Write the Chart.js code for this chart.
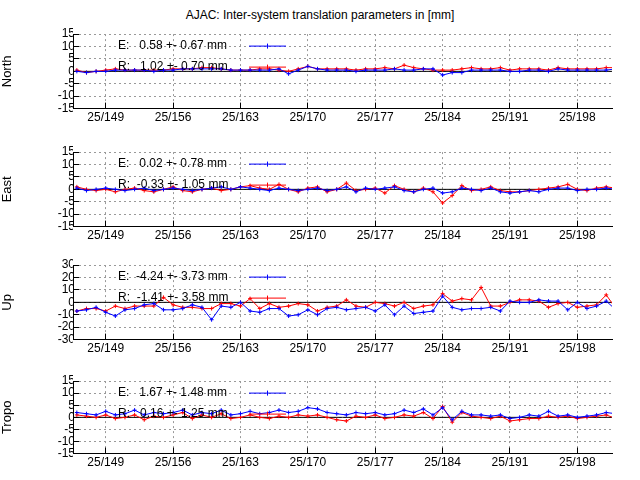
<!DOCTYPE html>
<html><head><meta charset="utf-8">
<script src="https://cdn.jsdelivr.net/npm/chart.js@4/dist/chart.umd.min.js"></script>
<style>body{margin:0;width:640px;height:480px;background:#fff;position:relative;font-family:"Liberation Sans",Arial,sans-serif}
#t{position:absolute;top:8px;left:0;width:640px;text-align:center;font-size:12px}
canvas{position:absolute}</style></head><body>
<div id="t">AJAC: Inter-system translation parameters in [mm]</div>
<canvas id="c0" style="left:0;top:25px" width="640" height="110"></canvas>
<canvas id="c1" style="left:0;top:143px" width="640" height="110"></canvas>
<canvas id="c2" style="left:0;top:256px" width="640" height="110"></canvas>
<canvas id="c3" style="left:0;top:372px" width="640" height="108"></canvas>
<script>
const days=[146,147,148,149,150,151,152,153,154,155,156,157,158,159,160,161,162,163,164,165,166,167,168,169,170,171,172,173,174,175,176,177,178,179,180,181,182,183,184,185,186,187,188,189,190,191,192,193,194,195,196,197,198,199,200,201,202];
const tickDays=[149,156,163,170,177,184,191,198];
const panelNames=["North","East","Up","Tropo"];
const legE=["E:   0.58 +- 0.67 mm","E:   0.02 +- 0.78 mm","E:  -4.24 +- 3.73 mm","E:   1.67 +- 1.48 mm"];
const legR=["R:   1.02 +- 0.70 mm","R:  -0.33 +- 1.05 mm","R:  -1.41 +- 3.58 mm","R:   0.16 +- 1.25 mm"];
const northE=[0,-0.5,0,0,0.5,0.5,0.5,0.5,0,0.5, 0.5,1,1,1,1,1,0.5,0.5,0.5,0.5, 0.5,1,-1,0.5,2,1,0.5,0.5,0.5,0, 0.5,0.5,0.5,1,0.5,0.5,1,1,-1.5,-0.5, -0.5,0.5,0.5,0.5,0.5,0,0,0.5,0.5,0, 1,0.5,0.5,0.5,0.5,0.5,1];
const northR=[0.5,-0.5,0,0.5,1,0.5,0.5,0.5,0.5,0.5, 1,1,1,1.5,1.5,1,0.5,0.5,0.5,1, 1,0.5,0,1,2,1,1,1,1,0.5, 1,1,1.5,1,2.5,1.5,1,0.5,0.5,0.5, 1,1.5,1,1,1.5,0.5,1,1,1,0.5, 1.5,1,1,1,1,1.5,1.5];
const eastE=[0.5,-0.5,0,0.5,0,-0.5,0,0.5,-0.5,0, 0.5,0,-0.5,0,0.5,1,0,1,0.5,0, -0.5,0.5,0,-0.5,0,0.5,-0.5,0,1,-1, 0.5,0,0.5,1,-0.5,-1,0,0.5,-1.5,-1, 0.5,0,-0.5,0.5,-1,-1.5,-1,-0.5,-1,0, 0.5,0.5,-0.5,0,0,0.5,0];
const eastR=[1,0,-0.5,0,-1,0,0.5,-0.5,-1,0, 1,-0.5,-1,0,0.5,-0.5,0,1,1.5,0.5, 0,2,0,-1,0.5,1,-1,0,2.5,-0.5, 0,0.5,-1.5,1.5,0,-1,0.5,-1,-5.5,-2.5, 1.5,-0.5,0,1,-0.5,-1,-1,-0.5,0,0.5, 1,2,0,-0.5,0.5,1,0.5];
const upE=[-7,-6,-4,-8,-11,-6,-5,-2,-1,-6, -6,-5,-2,-4,-14,-3,-4,0,-7,-8, -5,-5,-11,-10,-6,-10,-5,-4,-6,-5, -4,-7,-2,-10,-3,-9,-8,-7,5,-4, -6,-5,-5,-4,-7,1,0,0,2,1, 1,-6,0,-5,-3,1,-6];
const upR=[-7,-5,-5,-7,-3,-5,-3,-3,-3,4, -2,-4,-4,-5,-5,-1,-1,-3,3,-5, -1,-4,-3,-1,-2,-7,-4,-3,2,-3, -4,0,-1,-3,0,-5,-3,-2,7,1, 3,2,12,-3,-3,0,2,2,1,-4, -1,0,-4,-3,-2,6,-5];
const tropoE=[2,1.5,1,2.5,1,1.5,3,1,2,1.5, 2,3,1,2,1.5,3,1,1.5,2.5,1.5, 2,3,2,2.5,4,3.5,2,1.5,1,2, 1.5,2,1,1.5,3,2,3.5,1,4,-1, 2.5,1,1,0.5,1,-0.5,0,1,0.5,2.5, 0.5,1,0,0.5,1,2,1.5];
const tropoR=[1,0.5,0,1,-0.5,0,1,-1,0.5,0, 1,2,-0.5,1,0,1.5,-0.5,0,1,0, -0.5,0.5,0,1,0.5,1,0,-1,-1.5,0.5, 0,1,-0.5,0,1,0.5,2,-0.5,4.5,-2, 2,0.5,0,-0.5,0.5,-1.5,-1,-0.5,-0.5,0.5, 0,0.5,-0.5,0,0.5,1,-0.5];
const series=[[northE,northR],[eastE,eastR],[upE,upR],[tropoE,tropoR]];
const ranges=[[-15,15,5],[-15,15,5],[-30,30,10],[-15,15,5]];
const font={family:"Liberation Sans, Arial",size:12};
const legendPlugin={id:'leg',
 beforeDatasetsDraw(ch){const c=ch.ctx,a=ch.chartArea,y=ch.scales.y.getPixelForValue(0);c.save();c.strokeStyle='#000';c.lineWidth=1;c.beginPath();c.moveTo(a.left,y);c.lineTo(a.right,y);c.stroke();c.restore();},
 afterDatasetsDraw(ch){const i=ch.options.plugins.leg.idx;const c=ch.ctx;const a=ch.chartArea;
 c.save();c.font='12px "Liberation Sans", Arial';c.fillStyle='#000';c.textBaseline='middle';
 [[legE[i],'#0000ff',a.top+12],[legR[i],'#ff0000',a.top+33]].forEach(([t,col,y])=>{c.fillText(t,a.left+45,y);c.strokeStyle=col;c.lineWidth=1;c.beginPath();c.moveTo(a.left+176,y);c.lineTo(a.left+213,y);c.moveTo(a.left+194.5,y-2.5);c.lineTo(a.left+194.5,y+2.5);c.stroke();});
 c.restore();}};
for(let i=0;i<4;i++){
 const [mn,mx,st]=ranges[i];
 new Chart(document.getElementById('c'+i),{type:'line',
  data:{datasets:[
   {data:days.map((d,k)=>({x:d,y:series[i][0][k]})),borderColor:'#0000ff',backgroundColor:'#0000ff',borderWidth:1,pointRadius:2,pointStyle:'cross',pointBorderWidth:1,tension:0},
   {data:days.map((d,k)=>({x:d,y:series[i][1][k]})),borderColor:'#ff0000',backgroundColor:'#ff0000',borderWidth:1,pointRadius:2,pointStyle:'cross',pointBorderWidth:1,tension:0}]},
  plugins:[legendPlugin],
  options:{responsive:false,animation:false,layout:{padding:{left:0,right:28,top:7,bottom:2}},
   plugins:{legend:{display:false},tooltip:{enabled:false},leg:{idx:i}},
   scales:{
    x:{type:'linear',min:145.6,max:201.6,afterBuildTicks:s=>{s.ticks=tickDays.map(v=>({value:v}));},
     ticks:{callback:v=>'25/'+v,color:'#000',font,maxRotation:0,padding:8,autoSkip:false},
     grid:{color:'#999',tickColor:'#000',tickLength:-6},border:{color:'#000',dash:[2,3]}},
    y:{min:mn,max:mx,afterBuildTicks:s=>{const t=[];for(let v=mn;v<=mx;v+=st)t.push({value:v});s.ticks=t;},
     afterFit:s=>{s.width=73;},
     ticks:{color:'#000',font:{family:"Liberation Sans, Arial",size:12,lineHeight:0.85},padding:4,autoSkip:false},
     title:{display:true,text:panelNames[i],color:'#000',font:{family:"Liberation Sans, Arial",size:13},padding:{top:0,bottom:8}},
     grid:{color:'#999',lineWidth:1,tickLength:-6,tickColor:'#000'},border:{color:'#000',dash:[2,3]}}
   }}});
}
</script></body></html>
